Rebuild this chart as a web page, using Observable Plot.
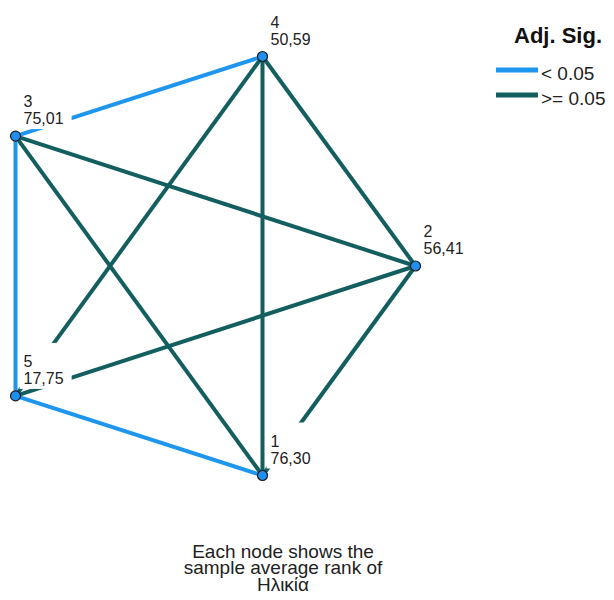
<!DOCTYPE html>
<html>
<head>
<meta charset="utf-8">
<script src="https://cdn.jsdelivr.net/npm/d3@7"></script>
<script src="https://cdn.jsdelivr.net/npm/@observablehq/plot@0.6"></script>
<style>
  body { margin: 0; background: #fff; font-family: "Liberation Sans", Arial, sans-serif; }
  #wrap { position: relative; width: 614px; height: 600px; overflow: hidden; }
  #legend { position: absolute; left: 480px; top: 0; }
  #caption {
    position: absolute; left: 0; top: 544px; width: 566px;
    text-align: center; font-size: 19px; line-height: 16.3px; color: #222;
  }
</style>
</head>
<body>
<div id="wrap">
  <div id="chart"></div>
  <svg id="legend" width="134" height="120"></svg>
  <div id="caption">Each node shows the<br>sample average rank of<br>Ηλικία</div>
</div>
<script>
// Groups (nodes) and their sample average ranks
const nodeIds = ["1", "2", "3", "4", "5"];
const meanRanks = [76.30, 56.41, 75.01, 50.59, 17.75];
// Layout positions of the nodes (unit square, y pointing up)
const nodeX = [0.6175, 1, 0, 0.6175, 0];
const nodeY = [0, 0.5, 0.81, 1, 0.19];

// Pairwise comparisons and their adjusted significance class
const pairFrom = ["4", "4", "4", "3", "3", "2", "2", "3", "3", "5"];
const pairTo   = ["1", "2", "5", "2", "1", "5", "1", "4", "5", "1"];
const pairSig  = [">= 0.05", ">= 0.05", ">= 0.05", ">= 0.05", ">= 0.05", ">= 0.05", ">= 0.05", "< 0.05", "< 0.05", "< 0.05"];

const sigLevels = ["< 0.05", ">= 0.05"];
const sigColors = ["#1f96ee", "#135e5f"];

const nodes = nodeIds.map((id, i) => ({id, rank: meanRanks[i], x: nodeX[i], y: nodeY[i]}));
const byId = new Map(nodes.map(d => [d.id, d]));
const edges = pairFrom.map((a, i) => ({a: byId.get(a), b: byId.get(pairTo[i]), sig: pairSig[i]}));

const fmtRank = v => d3.format(".2f")(v).replace(".", ",");

const chart = Plot.plot({
  width: 614,
  height: 530,
  marginLeft: 15,
  marginRight: 199,
  marginTop: 56,
  marginBottom: 55,
  style: {fontFamily: "Liberation Sans, Arial, sans-serif", background: "white"},
  x: {domain: [0, 1], axis: null},
  y: {domain: [0, 1], axis: null},
  color: {domain: sigLevels, range: sigColors},
  marks: [
    Plot.link(edges, {
      x1: d => d.a.x, y1: d => d.a.y, x2: d => d.b.x, y2: d => d.b.y,
      stroke: "sig", strokeWidth: 4
    }),
    Plot.dot(nodes, {x: "x", y: "y", r: 5, fill: "#1e8ff0", stroke: "#1b1b1b", strokeWidth: 1.2}),
    Plot.text(nodes, {
      x: "x", y: "y",
      text: d => `${d.id}\n${fmtRank(d.rank)}`,
      textAnchor: "start", lineAnchor: "bottom", lineHeight: 1.06,
      dx: 8, dy: -12, fontSize: 16, fill: "#222"
    })
  ]
});
document.getElementById("chart").appendChild(chart);

// White backing boxes under the node labels, placed between the links and the dots
const ns = "http://www.w3.org/2000/svg";
const textG = chart.querySelector('g[aria-label="text"]');
const dotG = chart.querySelector('g[aria-label="dot"]');
const boxG = document.createElementNS(ns, "g");
if (textG.getAttribute("transform")) boxG.setAttribute("transform", textG.getAttribute("transform"));
for (const t of textG.querySelectorAll("text")) {
  const b = t.getBBox();
  const r = document.createElementNS(ns, "rect");
  r.setAttribute("x", b.x - 4);
  r.setAttribute("y", b.y - 10);
  r.setAttribute("width", b.width + 12);
  r.setAttribute("height", b.height + 12);
  r.setAttribute("fill", "white");
  if (t.getAttribute("transform")) r.setAttribute("transform", t.getAttribute("transform"));
  boxG.appendChild(r);
}
dotG.parentNode.insertBefore(boxG, dotG);

// Legend: Adj. Sig.
const leg = d3.select("#legend");
leg.append("text").attr("x", 122).attr("y", 43).attr("text-anchor", "end")
  .attr("font-size", 22).attr("font-weight", "bold").attr("fill", "#111").text("Adj. Sig.");
sigLevels.forEach((s, i) => {
  const yy = 70 + i * 25;
  leg.append("line").attr("x1", 16).attr("x2", 58).attr("y1", yy).attr("y2", yy)
    .attr("stroke", sigColors[i]).attr("stroke-width", 5);
  leg.append("text").attr("x", 61).attr("y", yy + 10)
    .attr("font-size", 19).attr("fill", "#222").text(s);
});
</script>
</body>
</html>
